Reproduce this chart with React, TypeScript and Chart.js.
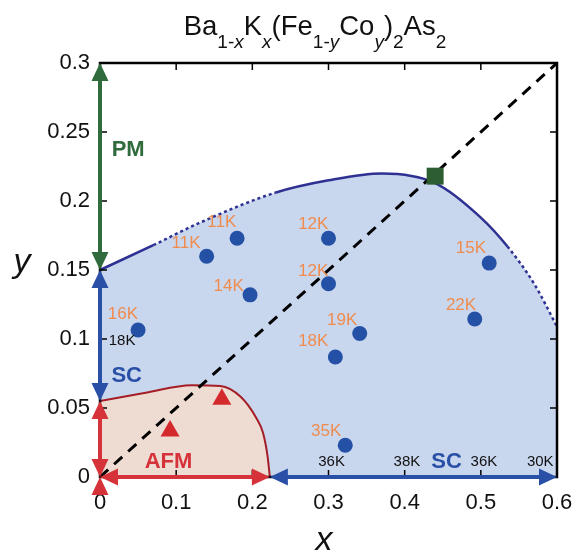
import { useEffect, useRef } from 'react';
import { Chart, registerables } from 'chart.js';

Chart.register(...registerables);

// ---- axes ----
const xTicks = [0, 0.1, 0.2, 0.3, 0.4, 0.5, 0.6];
const xTickLabels = ['0', '0.1', '0.2', '0.3', '0.4', '0.5', '0.6'];
const yTicks = [0, 0.05, 0.1, 0.15, 0.2, 0.25, 0.3];
const yTickLabels = ['0', '0.05', '0.1', '0.15', '0.2', '0.25', '0.3'];

// ---- SC dome boundary ----
const scDomeX = [0, 0.07, 0.13, 0.23, 0.3, 0.37, 0.44, 0.5, 0.535, 0.57, 0.6];
const scDomeY = [0.15, 0.168, 0.184, 0.206, 0.215, 0.22, 0.213, 0.188, 0.167, 0.14, 0.109];
const scDotted = [[0.07, 0.23], [0.535, 0.6]];

// ---- AFM dome boundary ----
const afmDomeX = [0, 0.06, 0.12, 0.158, 0.185, 0.205, 0.214, 0.22, 0.223];
const afmDomeY = [0.055, 0.061, 0.0665, 0.066, 0.058, 0.043, 0.032, 0.015, 0];

// ---- samples ----
const scPointX = [0.05, 0.14, 0.18, 0.197, 0.3, 0.3, 0.341, 0.309, 0.511, 0.492, 0.322];
const scPointY = [0.1065, 0.16, 0.173, 0.132, 0.173, 0.14, 0.104, 0.087, 0.155, 0.1145, 0.023];
const afmPointX = [0.092, 0.16];
const afmPointY = [0.0333, 0.0563];
const pmPointX = [0.44];
const pmPointY = [0.218];
const diagX = [0, 0.6];
const diagY = [0, 0.3];

// ---- Tc labels ----
const tcLabels = ['16K', '11K', '11K', '14K', '12K', '12K', '19K', '18K', '15K', '22K', '35K'];
const tcLabelX = [0.03, 0.113, 0.16, 0.169, 0.28, 0.28, 0.318, 0.28, 0.487, 0.474, 0.297];
const tcLabelY = [0.118, 0.1696, 0.1848, 0.138, 0.1833, 0.149, 0.1138, 0.0986, 0.166, 0.1246, 0.0333];

const blackLabels = ['18K', '36K', '38K', '36K', '30K'];
const blackLabelX = [0.029, 0.304, 0.403, 0.504, 0.578];
const blackLabelY = [0.099, 0.011, 0.011, 0.011, 0.011];

// ---- phase labels ----
const phaseLabels = ['PM', 'SC', 'AFM', 'SC'];
const phaseLabelX = [0.037, 0.035, 0.09, 0.455];
const phaseLabelY = [0.237, 0.073, 0.011, 0.011];
const phaseColors = ['#2f6b3c', '#2a4fa6', '#d6323a', '#2a4fa6'];

// ---- arrows ----
const arrowStart = [[0, 0.15], [0, 0.055], [0, 0], [0, 0], [0.223, 0], [0, -0.013]];
const arrowEnd = [[0, 0.3], [0, 0.15], [0, 0.055], [0.223, 0], [0.6, 0], [0, 0]];
const arrowHeads = [[true, true], [true, true], [true, true], [true, true], [true, true], [false, true]];
const arrowColors = ['#2f6b3c', '#2a4fa6', '#d6323a', '#d6323a', '#2a4fa6', '#d6323a'];

// ---- title ----
const titleParts = [
  { t: 'Ba', sub: false, it: false },
  { t: '1-', sub: true, it: false },
  { t: 'x', sub: true, it: true },
  { t: 'K', sub: false, it: false },
  { t: 'x', sub: true, it: true },
  { t: '(Fe', sub: false, it: false },
  { t: '1-', sub: true, it: false },
  { t: 'y', sub: true, it: true },
  { t: 'Co', sub: false, it: false },
  { t: 'y', sub: true, it: true },
  { t: ')', sub: false, it: false },
  { t: '2', sub: true, it: false },
  { t: 'As', sub: false, it: false },
  { t: '2', sub: true, it: false },
];

const FONT = "'Liberation Sans', Arial, sans-serif";

const toPts = (xs: number[], ys: number[]) => xs.map((x, i) => ({ x, y: ys[i] }));

function drawHead(ctx: CanvasRenderingContext2D, tx: number, ty: number, ux: number, uy: number, len: number, w: number) {
  const bx = tx - ux * len;
  const by = ty - uy * len;
  const px = -uy;
  const py = ux;
  ctx.beginPath();
  ctx.moveTo(tx, ty);
  ctx.lineTo(bx + px * w / 2, by + py * w / 2);
  ctx.lineTo(bx - px * w / 2, by - py * w / 2);
  ctx.closePath();
  ctx.fill();
}

const overlay = {
  id: 'overlay',
  afterDatasetsDraw(chart: any) {
    const { ctx, chartArea: a } = chart;
    const sx = chart.scales.x;
    const sy = chart.scales.y;
    ctx.save();
    ctx.strokeStyle = '#000';
    ctx.lineWidth = 2.5;
    ctx.strokeRect(a.left, a.top, a.right - a.left, a.bottom - a.top);
    ctx.lineWidth = 1.5;
    const tl = 7;
    xTicks.forEach((v) => {
      const px = sx.getPixelForValue(v);
      ctx.beginPath();
      ctx.moveTo(px, a.bottom);
      ctx.lineTo(px, a.bottom - tl);
      ctx.moveTo(px, a.top);
      ctx.lineTo(px, a.top + tl);
      ctx.stroke();
    });
    yTicks.forEach((v) => {
      const py = sy.getPixelForValue(v);
      ctx.beginPath();
      ctx.moveTo(a.left, py);
      ctx.lineTo(a.left + tl, py);
      ctx.moveTo(a.right, py);
      ctx.lineTo(a.right - tl, py);
      ctx.stroke();
    });
    arrowStart.forEach((s, i) => {
      const e = arrowEnd[i];
      const x1 = sx.getPixelForValue(s[0]);
      const y1 = sy.getPixelForValue(s[1]);
      const x2 = sx.getPixelForValue(e[0]);
      const y2 = sy.getPixelForValue(e[1]);
      const dx = x2 - x1;
      const dy = y2 - y1;
      const L = Math.hypot(dx, dy);
      const ux = dx / L;
      const uy = dy / L;
      const len = 18;
      const w = 17;
      const [hs, he] = arrowHeads[i];
      ctx.strokeStyle = arrowColors[i];
      ctx.fillStyle = arrowColors[i];
      ctx.lineWidth = 4;
      const sOff = hs ? len - 2 : 0;
      const eOff = he ? len - 2 : 0;
      if (L - sOff - eOff > 0) {
        ctx.beginPath();
        ctx.moveTo(x1 + ux * sOff, y1 + uy * sOff);
        ctx.lineTo(x2 - ux * eOff, y2 - uy * eOff);
        ctx.stroke();
      }
      if (hs) drawHead(ctx, x1, y1, -ux, -uy, len, w);
      if (he) drawHead(ctx, x2, y2, ux, uy, len, w);
    });
    ctx.textAlign = 'center';
    ctx.textBaseline = 'middle';
    ctx.font = `17px ${FONT}`;
    ctx.fillStyle = '#f08c4e';
    tcLabels.forEach((t, i) => {
      ctx.fillText(t, sx.getPixelForValue(tcLabelX[i]), sy.getPixelForValue(tcLabelY[i]));
    });
    ctx.font = `15px ${FONT}`;
    ctx.fillStyle = '#111';
    blackLabels.forEach((t, i) => {
      ctx.fillText(t, sx.getPixelForValue(blackLabelX[i]), sy.getPixelForValue(blackLabelY[i]));
    });
    ctx.font = `bold 22px ${FONT}`;
    phaseLabels.forEach((t, i) => {
      ctx.fillStyle = phaseColors[i];
      ctx.fillText(t, sx.getPixelForValue(phaseLabelX[i]), sy.getPixelForValue(phaseLabelY[i]));
    });
    ctx.restore();
  },
  afterDraw(chart: any) {
    const { ctx } = chart;
    ctx.save();
    ctx.fillStyle = '#111';
    ctx.textBaseline = 'alphabetic';
    ctx.textAlign = 'left';
    const mainF = `27.5px ${FONT}`;
    const subF = `19px ${FONT}`;
    const subItF = `italic 19px ${FONT}`;
    const fontOf = (p: any) => (p.sub ? (p.it ? subItF : subF) : mainF);
    let total = 0;
    titleParts.forEach((p) => {
      ctx.font = fontOf(p);
      total += ctx.measureText(p.t).width;
    });
    let x = 315 - total / 2;
    titleParts.forEach((p) => {
      ctx.font = fontOf(p);
      ctx.fillText(p.t, x, p.sub ? 48 : 35);
      x += ctx.measureText(p.t).width;
    });
    ctx.font = `italic 34px ${FONT}`;
    ctx.textAlign = 'center';
    ctx.fillText('x', 324, 550);
    ctx.fillText('y', 22, 272);
    ctx.restore();
  },
};

export default function App() {
  const ref = useRef<HTMLCanvasElement | null>(null);
  useEffect(() => {
    document.body.style.margin = '0';
    const canvas = ref.current!;
    const inDotted = (x0: number, x1: number) =>
      scDotted.some(([a, b]) => x0 >= a - 1e-9 && x1 <= b + 1e-9);
    const chart = new Chart(canvas, {
      type: 'scatter',
      data: {
        datasets: [
          {
            label: 'PM point',
            data: toPts(pmPointX, pmPointY),
            pointStyle: 'rect',
            pointRadius: 12,
            backgroundColor: '#2d5e32',
            borderColor: '#2d5e32',
            borderWidth: 0,
            order: 1,
          },
          {
            label: 'SC samples',
            data: toPts(scPointX, scPointY),
            pointStyle: 'circle',
            pointRadius: 7.5,
            backgroundColor: '#2451a6',
            borderColor: '#2451a6',
            borderWidth: 0,
            order: 2,
          },
          {
            label: 'AFM samples',
            data: toPts(afmPointX, afmPointY),
            pointStyle: 'triangle',
            pointRadius: 11,
            backgroundColor: '#d42a2e',
            borderColor: '#d42a2e',
            borderWidth: 0,
            order: 3,
          },
          {
            label: 'diagonal',
            data: toPts(diagX, diagY),
            showLine: true,
            pointRadius: 0,
            borderColor: '#000',
            borderWidth: 3,
            borderDash: [11, 8],
            fill: false,
            order: 4,
          },
          {
            label: 'AFM dome',
            data: toPts(afmDomeX, afmDomeY),
            showLine: true,
            pointRadius: 0,
            borderColor: '#a51d26',
            borderWidth: 2,
            backgroundColor: '#eedcd3',
            fill: 'origin',
            cubicInterpolationMode: 'monotone',
            order: 5,
          },
          {
            label: 'SC dome line',
            data: toPts(scDomeX, scDomeY),
            showLine: true,
            pointRadius: 0,
            borderColor: '#2e3192',
            borderWidth: 2.5,
            fill: false,
            cubicInterpolationMode: 'monotone',
            segment: {
              borderDash: (c: any) => (inDotted(c.p0.parsed.x, c.p1.parsed.x) ? [3, 3] : undefined),
            },
            order: 6,
          },
          {
            label: 'SC dome fill',
            data: toPts(scDomeX, scDomeY),
            showLine: true,
            pointRadius: 0,
            borderWidth: 0,
            borderColor: 'rgba(0,0,0,0)',
            backgroundColor: '#c8d6ee',
            fill: 'origin',
            cubicInterpolationMode: 'monotone',
            order: 7,
          },
        ] as any,
      },
      options: {
        animation: false,
        responsive: false,
        devicePixelRatio: 1,
        layout: { padding: { top: 63, right: 19, left: 0, bottom: 0 } },
        plugins: { legend: { display: false }, tooltip: { enabled: false }, title: { display: false } },
        scales: {
          x: {
            type: 'linear',
            min: 0,
            max: 0.6,
            afterBuildTicks: (s: any) => {
              s.ticks = xTicks.map((v) => ({ value: v }));
            },
            afterFit: (s: any) => {
              s.height = 76;
              s.paddingLeft = 0;
              s.paddingRight = 0;
            },
            ticks: {
              autoSkip: false,
              maxRotation: 0,
              padding: 13,
              color: '#111',
              font: { family: FONT, size: 22 },
              callback: (_v: any, i: number) => xTickLabels[i],
            },
            grid: { display: false, drawTicks: false },
            border: { display: false },
          },
          y: {
            type: 'linear',
            min: 0,
            max: 0.3,
            afterBuildTicks: (s: any) => {
              s.ticks = yTicks.map((v) => ({ value: v }));
            },
            afterFit: (s: any) => {
              s.width = 100;
              s.paddingTop = 0;
              s.paddingBottom = 0;
            },
            ticks: {
              autoSkip: false,
              padding: 10,
              color: '#111',
              font: { family: FONT, size: 22 },
              callback: (_v: any, i: number) => yTickLabels[i],
            },
            grid: { display: false, drawTicks: false },
            border: { display: false },
          },
        },
      } as any,
      plugins: [overlay],
    });
    return () => chart.destroy();
  }, []);
  return (
    <div style={{ position: 'fixed', left: 0, top: 0, width: 576, height: 553, background: '#fff' }}>
      <canvas ref={ref} width={576} height={553} style={{ width: 576, height: 553, display: 'block' }} />
    </div>
  );
}
